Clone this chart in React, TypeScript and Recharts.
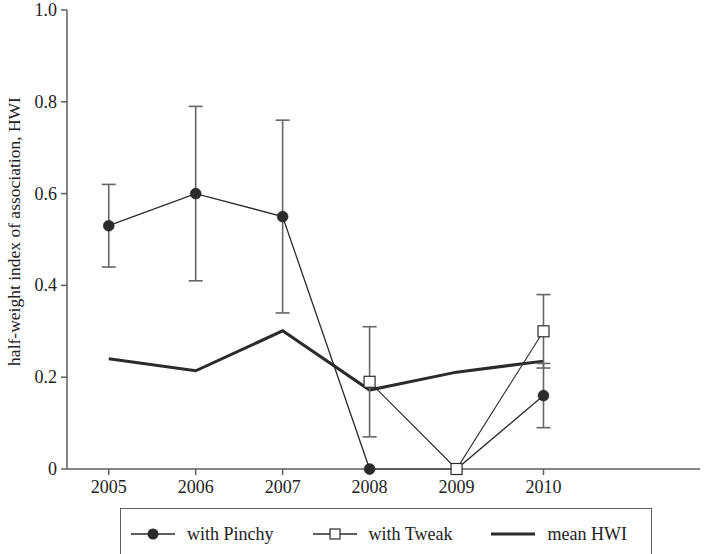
import { ComposedChart, ErrorBar, Legend, Line, XAxis, YAxis } from "recharts";

const years = [2005, 2006, 2007, 2008, 2009, 2010];
const pinchy = [0.53, 0.6, 0.55, 0, 0, 0.16];
const pinchyLow = [0.44, 0.41, 0.34, null, null, 0.09];
const pinchyHigh = [0.62, 0.79, 0.76, null, null, 0.23];
const tweak = [null, null, null, 0.19, 0, 0.3];
const tweakLow = [null, null, null, 0.07, null, 0.22];
const tweakHigh = [null, null, null, 0.31, null, 0.38];
const meanHwi = [0.24, 0.214, 0.301, 0.172, 0.211, 0.235];

const yTicks = [0, 0.2, 0.4, 0.6, 0.8, 1.0];
const yLabel = "half-weight index of association, HWI";
const legendItems = [
  { name: "with Pinchy", kind: "circle" },
  { name: "with Tweak", kind: "square" },
  { name: "mean HWI", kind: "thick" },
];

const ink = "#2b2b2b";
const axisGrey = "#5e5e5e";
const errGrey = "#666";
const font = "Liberation Serif";

function errPair(v: number | null, lo: number | null, hi: number | null) {
  if (v == null || lo == null || hi == null) return null;
  return [v - lo, hi - v];
}

const data = years.map((year, i) => ({
  year,
  pinchy: pinchy[i],
  pinchyErr: errPair(pinchy[i], pinchyLow[i], pinchyHigh[i]),
  tweak: tweak[i],
  tweakErr: errPair(tweak[i], tweakLow[i], tweakHigh[i]),
  mean: meanHwi[i],
}));

function SquareDot(props: any) {
  const { cx, cy, index } = props;
  if (cx == null || cy == null || Number.isNaN(cy)) return <g key={`sq-${index}`} />;
  return (
    <rect
      key={`sq-${index}`}
      x={cx - 5.5}
      y={cy - 5.5}
      width={11}
      height={11}
      fill="#fff"
      stroke={ink}
      strokeWidth={1.2}
    />
  );
}

// plain text tick so the serif face and size are applied for sure
function AxisTick(props: any) {
  const { x, y, payload, orientation, tickFormatter } = props;
  const label = tickFormatter ? tickFormatter(payload.value) : String(payload.value);
  const isY = orientation === "left";
  return (
    <text
      x={x}
      y={y}
      textAnchor={isY ? "end" : "middle"}
      dominantBaseline={isY ? "central" : "hanging"}
      fontFamily={font}
      fontSize={18}
      fill="#222"
    >
      {label}
    </text>
  );
}

function LegendIcon({ kind }: { kind: string }) {
  return (
    <svg width={44} height={14} style={{ display: "block", flexShrink: 0 }}>
      <line
        x1={0}
        y1={7}
        x2={44}
        y2={7}
        stroke={ink}
        strokeWidth={kind === "thick" ? 3 : 1.3}
      />
      {kind === "circle" ? <circle cx={22} cy={7} r={5.5} fill={ink} /> : null}
      {kind === "square" ? (
        <rect x={17} y={2} width={10} height={10} fill="#fff" stroke={ink} strokeWidth={1.2} />
      ) : null}
    </svg>
  );
}

function LegendBox() {
  return (
    <div
      style={{
        marginLeft: 120,
        width: 532,
        height: 52,
        boxSizing: "border-box",
        border: `1.5px solid ${axisGrey}`,
        display: "flex",
        alignItems: "center",
        paddingLeft: 10,
        fontFamily: font,
        fontSize: 18,
        color: "#222",
        whiteSpace: "nowrap",
      }}
    >
      {legendItems.map((it) => (
        <div
          key={it.name}
          style={{ display: "flex", alignItems: "center", marginRight: 39, flexShrink: 0 }}
        >
          <LegendIcon kind={it.kind} />
          <span style={{ marginLeft: 12 }}>{it.name}</span>
        </div>
      ))}
    </div>
  );
}

function YLabel(props: any) {
  const { viewBox } = props;
  const x = viewBox.x + 14;
  const y = viewBox.y + viewBox.height / 2 - 8;
  return (
    <text
      x={x}
      y={y}
      transform={`rotate(-90, ${x}, ${y})`}
      textAnchor="middle"
      dominantBaseline="central"
      fontFamily={font}
      fontSize={17.5}
      fill="#222"
    >
      {yLabel}
    </text>
  );
}

export default function App() {
  return (
    <div style={{ position: "absolute", left: 0, top: 0 }}>
      <ComposedChart
        width={704}
        height={554}
        data={data}
        margin={{ top: 10, right: 4, bottom: 0, left: 0 }}
        style={{ fontFamily: font }}
      >
        <XAxis
          dataKey="year"
          type="number"
          domain={[2004.52, 2011.8]}
          ticks={years}
          allowDataOverflow
          height={39}
          tick={<AxisTick />}
          tickSize={6}
          tickMargin={5}
          axisLine={{ stroke: axisGrey, strokeWidth: 1.5 }}
          tickLine={{ stroke: axisGrey, strokeWidth: 1.5 }}
        />
        <YAxis
          type="number"
          domain={[0, 1]}
          ticks={yTicks}
          width={67}
          tick={<AxisTick />}
          tickSize={6}
          tickMargin={4}
          tickFormatter={(v: number) => (v === 0 ? "0" : v.toFixed(1))}
          axisLine={{ stroke: axisGrey, strokeWidth: 1.5 }}
          tickLine={{ stroke: axisGrey, strokeWidth: 1.5 }}
          label={<YLabel />}
        />
        <Legend
          verticalAlign="bottom"
          height={46}
          wrapperStyle={{ left: 0, width: 704 }}
          content={() => <LegendBox />}
        />
        <Line
          dataKey="mean"
          name="mean HWI"
          stroke={ink}
          strokeWidth={3}
          dot={false}
          isAnimationActive={false}
        />
        <Line
          dataKey="pinchy"
          name="with Pinchy"
          stroke={ink}
          strokeWidth={1.3}
          dot={{ r: 5.5, fill: ink, stroke: ink, strokeWidth: 0.5 }}
          activeDot={false}
          isAnimationActive={false}
        >
          <ErrorBar dataKey="pinchyErr" direction="y" width={7} stroke={errGrey} strokeWidth={1.6} isAnimationActive={false} />
        </Line>
        <Line
          dataKey="tweak"
          name="with Tweak"
          stroke={ink}
          strokeWidth={1.1}
          dot={<SquareDot />}
          activeDot={false}
          isAnimationActive={false}
        >
          <ErrorBar dataKey="tweakErr" direction="y" width={7} stroke={errGrey} strokeWidth={1.6} isAnimationActive={false} />
        </Line>
      </ComposedChart>
    </div>
  );
}
